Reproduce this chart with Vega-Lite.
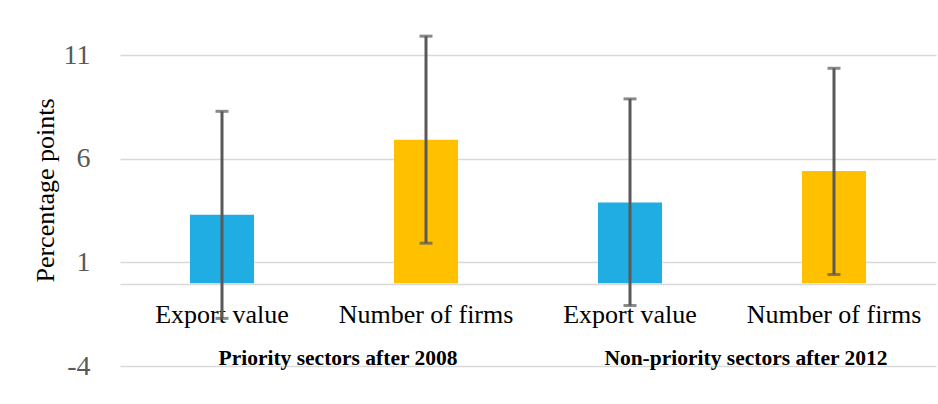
{
  "$schema": "https://vega.github.io/schema/vega-lite/v6.json",
  "width": 816,
  "height": 352,
  "autosize": {"type": "none"},
  "padding": {"left": 120, "top": 14, "right": 2, "bottom": 38},
  "background": "white",
  "config": {"view": {"stroke": null}, "font": "Liberation Serif"},
  "data": {
    "values": [
      {"bar": "Priority|Export value", "measure": "Export value", "value": 3.3, "lo": -1.7, "hi": 8.3},
      {"bar": "Priority|Number of firms", "measure": "Number of firms", "value": 6.93, "lo": 1.93, "hi": 11.93},
      {"bar": "Non-priority|Export value", "measure": "Export value", "value": 3.9, "lo": -1.08, "hi": 8.9},
      {"bar": "Non-priority|Number of firms", "measure": "Number of firms", "value": 5.42, "lo": 0.42, "hi": 10.38}
    ]
  },
  "layer": [
    {
      "encoding": {
        "x": {
          "field": "bar",
          "type": "nominal",
          "sort": null,
          "scale": {"paddingInner": 0.686, "paddingOuter": 0.343},
          "axis": {
            "title": null,
            "labelExpr": "split(datum.value, '|')[1]",
            "labelAngle": 0,
            "labelFont": "Liberation Serif",
            "labelFontSize": 26,
            "labelColor": "#000000",
            "labelPadding": 17,
            "ticks": false,
            "domainColor": "#d9d9d9",
            "domainWidth": 1.5,
            "offset": -82
          }
        }
      },
      "layer": [
        {
          "mark": {"type": "bar"},
          "encoding": {
            "y": {
              "field": "value",
              "type": "quantitative",
              "scale": {"domain": [-4, 13], "nice": false},
              "axis": {
                "values": [-4, 1, 6, 11],
                "labelExpr": "'' + datum.value",
                "grid": true,
                "gridColor": "#d9d9d9",
                "gridWidth": 1.5,
                "domain": false,
                "ticks": false,
                "labelFont": "Liberation Serif",
                "labelFontSize": 28,
                "labelColor": "#595959",
                "labelPadding": 30,
                "title": "Percentage points",
                "titleFont": "Liberation Serif",
                "titleFontSize": 26,
                "titleFontWeight": "normal",
                "titleColor": "#000000",
                "titlePadding": 5
              }
            },
            "color": {
              "field": "measure",
              "type": "nominal",
              "scale": {"domain": ["Export value", "Number of firms"], "range": ["#1FADE4", "#FFC000"]},
              "legend": null
            }
          }
        },
        {
          "mark": {"type": "rule", "color": "#595959", "strokeWidth": 3},
          "encoding": {
            "y": {"field": "lo", "type": "quantitative"},
            "y2": {"field": "hi"}
          }
        },
        {
          "mark": {"type": "tick", "color": "#595959", "thickness": 3, "size": 13},
          "encoding": {"y": {"field": "lo", "type": "quantitative"}}
        },
        {
          "mark": {"type": "tick", "color": "#595959", "thickness": 3, "size": 13},
          "encoding": {"y": {"field": "hi", "type": "quantitative"}}
        }
      ]
    },
    {
      "data": {"values": [{"group": "Priority sectors after 2008"}, {"group": "Non-priority sectors after 2012"}]},
      "mark": {"type": "text", "font": "Liberation Serif", "fontSize": 21.5, "fontWeight": "bold", "color": "#000000", "baseline": "alphabetic", "dy": -1, "dx": 14},
      "encoding": {
        "x": {"field": "group", "type": "nominal", "sort": null, "scale": {"paddingInner": 0, "paddingOuter": 0}, "axis": null},
        "y": {"datum": -4, "type": "quantitative"},
        "text": {"field": "group"}
      }
    }
  ],
  "resolve": {"scale": {"x": "independent"}}
}
